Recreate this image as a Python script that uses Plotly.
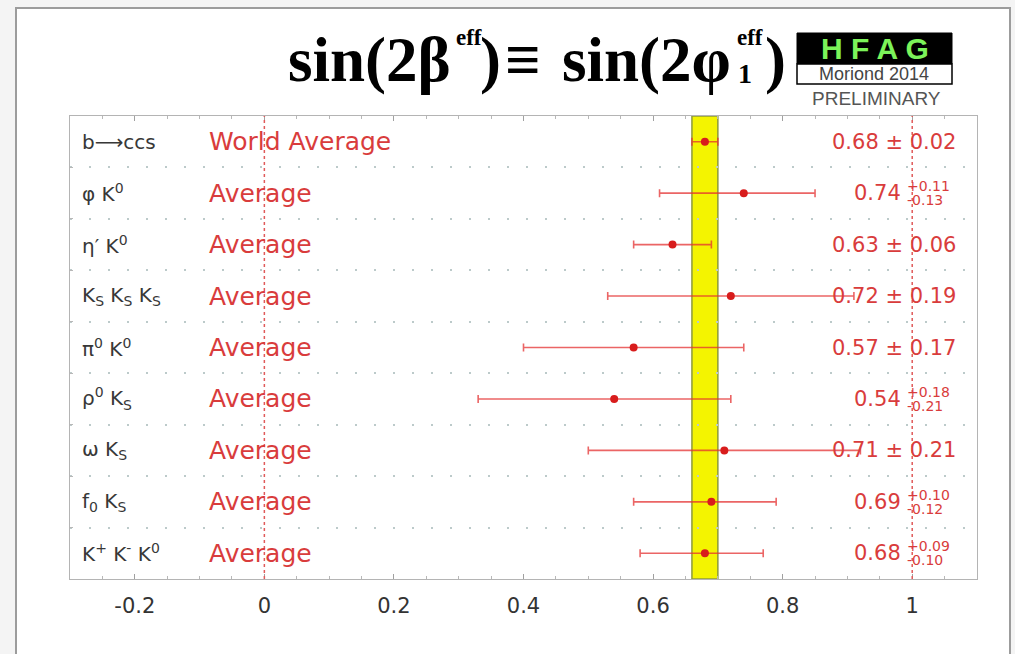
import plotly.graph_objects as go

# --- data -------------------------------------------------------------
modes = [
    "b⟶ccs",
    "φ K<sup>0</sup>",
    "η′ K<sup>0</sup>",
    "K<sub>S</sub> K<sub>S</sub> K<sub>S</sub>",
    "π<sup>0</sup> K<sup>0</sup>",
    "ρ<sup>0</sup> K<sub>S</sub>",
    "ω K<sub>S</sub>",
    "f<sub>0</sub> K<sub>S</sub>",
    "K<sup>+</sup> K<sup>-</sup> K<sup>0</sup>",
]
average_labels = ["World Average"] + ["Average"] * 8
central = [0.68, 0.74, 0.63, 0.72, 0.57, 0.54, 0.71, 0.69, 0.68]
err_plus = [0.02, 0.11, 0.06, 0.19, 0.17, 0.18, 0.21, 0.10, 0.09]
err_minus = [0.02, 0.13, 0.06, 0.19, 0.17, 0.21, 0.21, 0.12, 0.10]
x_ticks = [-0.2, 0, 0.2, 0.4, 0.6, 0.8, 1]
x_tick_text = ["-0.2", "0", "0.2", "0.4", "0.6", "0.8", "1"]

# --- page geometry (pixels) -------------------------------------------
W, H = 1015, 654
L, R, T, B = 70, 38, 116, 75
PW, PH = W - L - R, H - T - B


def px(xp):
    return (xp - L) / PW


def py(yp):
    return (H - B - yp) / PH


RED = "#d93c3c"
RED_LINE = "rgba(228,50,50,0.75)"
GREY_TXT = "#383838"
SANS = "DejaVu Sans"
SERIF = "Liberation Serif"

rows = list(range(len(modes)))

fig = go.Figure()

fig.add_trace(go.Scatter(
    x=central,
    y=rows,
    mode="markers",
    marker=dict(symbol="circle", size=8, color="#d81c1c"),
    error_x=dict(type="data", symmetric=False, array=err_plus,
                 arrayminus=err_minus, color=RED_LINE, thickness=1.6, width=4),
    showlegend=False,
    hoverinfo="skip",
))

shapes = []
# slide frame
shapes.append(dict(type="rect", xref="paper", yref="paper",
                   x0=px(16), x1=px(1010), y0=py(680), y1=py(8),
                   line=dict(color="#9c9c9c", width=2), fillcolor="white",
                   layer="below"))
# world-average band
wa_lo = central[0] - err_minus[0]
wa_hi = central[0] + err_plus[0]
shapes.append(dict(type="rect", xref="x", yref="paper", x0=wa_lo, x1=wa_hi,
                   y0=0, y1=1, fillcolor="#f4f400",
                   line=dict(color="#8c9a3c", width=1.5), layer="below"))
# dotted reference lines at 0 and 1
for xv in (0, 1):
    shapes.append(dict(type="line", xref="x", yref="paper", x0=xv, x1=xv,
                       y0=0, y1=1, line=dict(color="#e05a5a", width=1.5, dash="dot"),
                       layer="above"))
# HFAG logo boxes
shapes.append(dict(type="rect", xref="paper", yref="paper",
                   x0=px(797), x1=px(952), y0=py(64), y1=py(33),
                   fillcolor="black", line=dict(color="black", width=1)))
shapes.append(dict(type="rect", xref="paper", yref="paper",
                   x0=px(797), x1=px(952), y0=py(84), y1=py(64),
                   fillcolor="white", line=dict(color="black", width=1.5)))

ann = []
# row texts
for i in rows:
    ann.append(dict(x=px(80), y=i, xref="paper", yref="y", text=modes[i],
                    xanchor="left", yanchor="middle", showarrow=False,
                    font=dict(family=SANS, size=20, color=GREY_TXT)))
    ann.append(dict(x=px(207), y=i, xref="paper", yref="y", text=average_labels[i],
                    xanchor="left", yanchor="middle", showarrow=False,
                    font=dict(family=SANS, size=25, color=RED)))
    if abs(err_plus[i] - err_minus[i]) < 1e-9:
        ann.append(dict(x=px(958), y=i, xref="paper", yref="y",
                        text=f"{central[i]:.2f} ± {err_plus[i]:.2f}",
                        xanchor="right", yanchor="middle", showarrow=False,
                        font=dict(family=SANS, size=21, color=RED)))
    else:
        ann.append(dict(x=px(903), y=i, xref="paper", yref="y",
                        text=f"{central[i]:.2f}",
                        xanchor="right", yanchor="middle", showarrow=False,
                        font=dict(family=SANS, size=21, color=RED)))
        ann.append(dict(x=px(905), y=i, xref="paper", yref="y", yshift=7,
                        text=f"+{err_plus[i]:.2f}",
                        xanchor="left", yanchor="middle", showarrow=False,
                        font=dict(family=SANS, size=14, color=RED)))
        ann.append(dict(x=px(905), y=i, xref="paper", yref="y", yshift=-7,
                        text=f"-{err_minus[i]:.2f}",
                        xanchor="left", yanchor="middle", showarrow=False,
                        font=dict(family=SANS, size=14, color=RED)))

# title pieces
TFONT = dict(family=SERIF, size=63, color="black", weight="bold")
SFONT = dict(family=SERIF, size=23, color="black", weight="bold")
title_y = py(60)
ann += [
    dict(x=px(453), y=title_y, text="sin(2β", xanchor="right", font=TFONT),
    dict(x=px(454), y=py(37), text="eff", xanchor="left", font=SFONT),
    dict(x=px(490), y=title_y, text=")", xanchor="center", font=TFONT),
    dict(x=px(523), y=title_y, text="≡", xanchor="center", font=TFONT),
    dict(x=px(733), y=title_y, text="sin(2φ", xanchor="right", font=TFONT),
    dict(x=px(735), y=py(37), text="eff", xanchor="left", font=SFONT),
    dict(x=px(736), y=py(74), text="1", xanchor="left",
         font=dict(family=SERIF, size=28, color="black", weight="bold")),
    dict(x=px(775), y=title_y, text=")", xanchor="center", font=TFONT),
]
for a in ann[-8:]:
    a.update(xref="paper", yref="paper", yanchor="middle", showarrow=False)

# HFAG logo text
ann += [
    dict(x=px(875), y=py(49), text="H F A G", xref="paper", yref="paper",
         showarrow=False, xanchor="center", yanchor="middle",
         font=dict(family="Liberation Sans", size=30, color="#7cf35a", weight="bold")),
    dict(x=px(874), y=py(74), text="Moriond 2014", xref="paper", yref="paper",
         showarrow=False, xanchor="center", yanchor="middle",
         font=dict(family="Liberation Sans", size=18, color="#444444")),
    dict(x=px(876), y=py(98), text="PRELIMINARY", xref="paper", yref="paper",
         showarrow=False, xanchor="center", yanchor="middle",
         font=dict(family="Liberation Sans", size=19, color="#555555")),
]

fig.update_layout(
    width=W, height=H,
    margin=dict(l=L, r=R, t=T, b=B, pad=0),
    paper_bgcolor="#f4f4f4",
    plot_bgcolor="rgba(0,0,0,0)",
    shapes=shapes,
    annotations=ann,
    showlegend=False,
    xaxis=dict(
        range=[-0.3, 1.1], tickvals=x_ticks, ticktext=x_tick_text,
        showgrid=False, zeroline=False,
        showline=True, linecolor="#b4b4b4", linewidth=1, mirror="ticks",
        ticks="inside", ticklen=5, tickcolor="#a0a0a0",
        minor=dict(ticks="inside", ticklen=3, dtick=0.05, tickcolor="#b8b8b8"),
        ticklabelstandoff=8,
        tickfont=dict(family=SANS, size=21, color="#333333"),
    ),
    yaxis=dict(
        range=[len(modes) - 0.5, -0.5],
        tickvals=[r + 0.5 for r in rows[:-1]],
        showticklabels=False,
        showgrid=True, griddash="2px,17px", gridcolor="#bccaca", gridwidth=1.5,
        zeroline=False,
        showline=True, linecolor="#b4b4b4", linewidth=1, mirror=True,
        ticks="inside", ticklen=3, tickcolor="#b8b8b8",
    ),
)

fig.write_html("out.html")
